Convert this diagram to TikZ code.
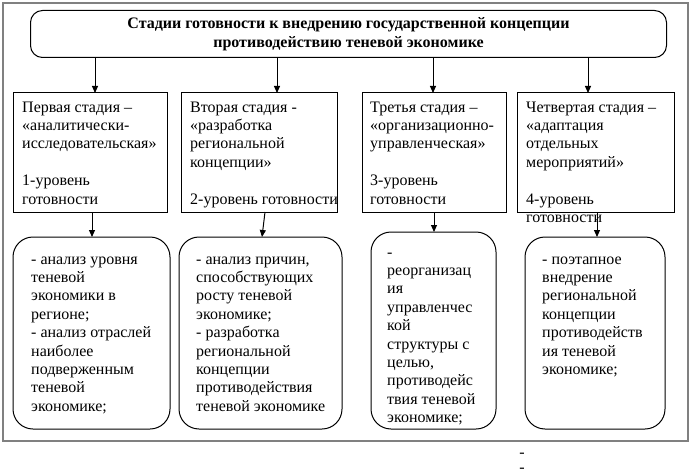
\documentclass[tikz,border=0pt]{standalone}
\usepackage{fontspec}
\setmainfont{Liberation Serif}
\usepackage{tikz}
\usetikzlibrary{arrows.meta,positioning}

\begin{document}
\begin{tikzpicture}[
    x=1pt, y=-1pt,
    stagebox/.style={draw, line width=1pt, anchor=north west, inner sep=0pt, outer sep=0pt},
    taskbox/.style={draw, line width=1pt, rounded corners=20pt, anchor=north west, inner sep=0pt, outer sep=0pt},
    txt/.style={align=left, inner sep=0pt, font=\fontsize{16}{18.4}\selectfont},
    arr/.style={-{Triangle[length=7pt,width=6pt]}, line width=1pt}
]
    \useasboundingbox (0,0) rectangle (690,476);
    \draw[gray, line width=1.5pt] (3,3) rectangle (688,441);

    % Title
    \node[draw, line width=1pt, rounded corners=12pt, anchor=north west, inner sep=0pt,
          minimum width=636, minimum height=47, align=center,
          font=\bfseries\fontsize{16}{18.4}\selectfont] (title) at (30,10)
        {Стадии готовности к внедрению государственной концепции\\противодействию теневой экономике};

    % Stages
    \node[stagebox, minimum width=154, minimum height=119] (s1) at (13,93) {};
    \node[stagebox, minimum width=156, minimum height=119] (s2) at (181,93) {};
    \node[stagebox, minimum width=144, minimum height=119] (s3) at (362,93) {};
    \node[stagebox, minimum width=157, minimum height=119] (s4) at (517,93) {};

    \node[txt, below right=6pt and 9pt of s1.north west] (t1)
        {\strut Первая стадия –\\«аналитически-\\исследовательская»\\ \\1-уровень\\готовности};
    \node[txt, below right=6pt and 9pt of s2.north west] (t2)
        {\strut Вторая стадия -\\«разработка\\региональной\\концепции»\\ \\2-уровень готовности};
    \node[txt, below right=6pt and 8pt of s3.north west] (t3)
        {\strut Третья стадия –\\«организационно-\\управленческая»\\ \\3-уровень\\готовности};
    \node[txt, below right=6pt and 9pt of s4.north west] (t4)
        {\strut Четвертая стадия –\\«адаптация\\отдельных\\мероприятий»\\ \\4-уровень\\готовности};

    % Tasks
    \node[taskbox, minimum width=157, minimum height=192] (r1) at (13,237) {};
    \node[taskbox, minimum width=163, minimum height=192] (r2) at (179,237) {};
    \node[taskbox, minimum width=125, minimum height=197] (r3) at (371,232) {};
    \node[taskbox, minimum width=140, minimum height=192] (r4) at (525,237) {};

    \node[txt, below right=14pt and 18pt of r1.north west] (u1)
        {\strut - анализ уровня\\теневой\\экономики в\\регионе;\\- анализ отраслей\\наиболее\\подверженным\\теневой\\экономике;};
    \node[txt, below right=14pt and 17pt of r2.north west] (u2)
        {\strut - анализ причин,\\способствующих\\росту теневой\\экономике;\\- разработка\\региональной\\концепции\\противодействия\\теневой экономике};
    \node[txt, below right=12pt and 16pt of r3.north west] (u3)
        {\strut -\\реорганизац\\ия\\управленчес\\кой\\структуры с\\целью,\\противодейс\\твия теневой\\экономике;};
    \node[txt, below right=14pt and 17pt of r4.north west] (u4)
        {\strut - поэтапное\\внедрение\\региональной\\концепции\\противодейств\\ия теневой\\экономике;};

    % Arrows
    \draw[arr] ([xshift=5]s1.north |- title.south) -- ([xshift=5]s1.north);
    \draw[arr] ([xshift=18]s2.north |- title.south) -- ([xshift=18]s2.north);
    \draw[arr] ([xshift=-1]s3.north |- title.south) -- ([xshift=-1]s3.north);
    \draw[arr] ([xshift=-7.5]s4.north |- title.south) -- ([xshift=-7.5]s4.north);

    \draw[arr] ([xshift=2]s1.south) -- ([xshift=2]s1.south |- r1.north);
    \draw[arr] ([xshift=6]s2.south) -- ([xshift=1.5]r2.north);
    \draw[arr] (s3.south) -- (s3.south |- r3.north);
    \draw[arr] ([xshift=1.5]s4.south) -- ([xshift=1.5]s4.south |- r4.north);

    % Stray marks below
    \node[txt] (m1) at (522,455) {-};
    \node[txt] (m2) at (522,470) {-};
\end{tikzpicture}
\end{document}
